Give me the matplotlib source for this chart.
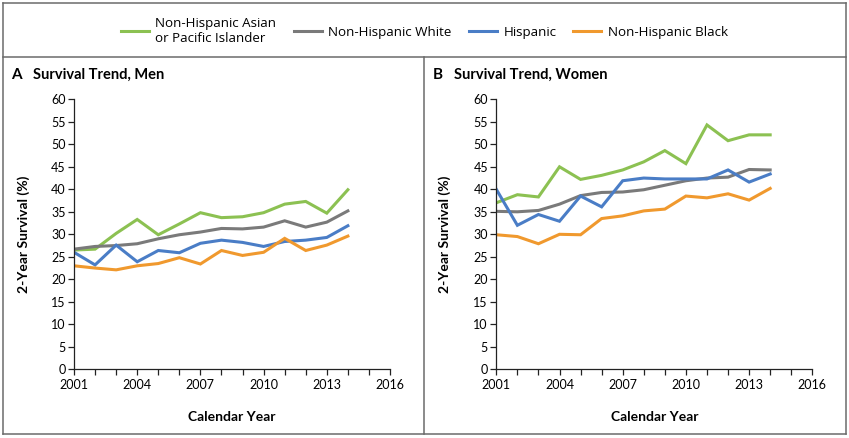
import matplotlib
matplotlib.use("Agg")
import matplotlib.pyplot as plt
from matplotlib.lines import Line2D
from matplotlib.ticker import MultipleLocator, FixedLocator

plt.rcParams['font.family'] = ['Lato', 'DejaVu Sans']

years = list(range(2001, 2015))
groups = ["Non-Hispanic Asian\nor Pacific Islander", "Non-Hispanic White", "Hispanic", "Non-Hispanic Black"]
colors = ["#8cc152", "#7a7a7a", "#4a7dc6", "#f0992e"]

men_asian = [26.5, 26.7, 30.2, 33.3, 29.9, 32.3, 34.8, 33.7, 33.9, 34.8, 36.7, 37.3, 34.7, 39.9]
men_white = [26.7, 27.3, 27.5, 27.9, 29.0, 29.9, 30.5, 31.3, 31.2, 31.6, 33.0, 31.6, 32.7, 35.2]
men_hisp = [26.0, 23.2, 27.6, 23.9, 26.4, 25.9, 28.0, 28.7, 28.2, 27.3, 28.4, 28.7, 29.3, 31.9]
men_black = [23.0, 22.5, 22.1, 23.0, 23.5, 24.8, 23.4, 26.4, 25.3, 26.0, 29.1, 26.4, 27.6, 29.6]

women_asian = [37.0, 38.8, 38.3, 45.0, 42.2, 43.1, 44.3, 46.1, 48.6, 45.7, 54.3, 50.8, 52.1, 52.1]
women_white = [35.1, 35.0, 35.3, 36.7, 38.6, 39.3, 39.4, 39.9, 40.9, 41.9, 42.5, 42.7, 44.4, 44.3]
women_hisp = [40.0, 32.0, 34.4, 32.9, 38.5, 36.1, 41.9, 42.5, 42.3, 42.3, 42.3, 44.3, 41.6, 43.4]
women_black = [29.9, 29.5, 27.9, 30.0, 29.9, 33.5, 34.1, 35.2, 35.6, 38.5, 38.1, 39.0, 37.6, 40.2]

men = [men_asian, men_white, men_hisp, men_black]
women = [women_asian, women_white, women_hisp, women_black]

W, H = 849, 438
fig = plt.figure(figsize=(W / 100, H / 100), dpi=100)

def fx(px):
    return px / W

def fy(py):
    return 1 - py / H

# borders
bc = "#6b6b6b"
lw = 1.1
for (x0, y0, x1, y1) in [(3, 3, 846, 3), (3, 434, 846, 434), (3, 3, 3, 434), (846, 3, 846, 434),
                          (3, 57, 846, 57), (424, 57, 424, 434)]:
    fig.add_artist(Line2D([fx(x0), fx(x1)], [fy(y0), fy(y1)], color=bc, lw=lw, transform=fig.transFigure))

def setup(ax, data, letter, title, lx, tx, ylab_x):
    for vals, c in zip(data, colors):
        ax.plot(years, vals, color=c, lw=2.2, solid_joinstyle='miter')
    ax.set_xlim(2001, 2016)
    ax.set_ylim(0, 60)
    ax.xaxis.set_major_locator(FixedLocator([2001, 2004, 2007, 2010, 2013, 2016]))
    ax.xaxis.set_minor_locator(MultipleLocator(1))
    ax.yaxis.set_major_locator(MultipleLocator(5))
    for s in ['top', 'right']:
        ax.spines[s].set_visible(False)
    for s in ['left', 'bottom']:
        ax.spines[s].set_linewidth(0.9)
        ax.spines[s].set_color("#222222")
    ax.tick_params(axis='both', which='both', direction='out', length=4, width=0.9, color="#222222",
                   labelsize=9, pad=2)
    ax.tick_params(axis='x', pad=3)
    ax.set_ylabel("2-Year Survival (%)", fontsize=10, fontweight='bold')
    ax.set_xlabel("Calendar Year", fontsize=10, fontweight='bold')
    ax.yaxis.set_label_coords(ylab_x, 0.5)
    ax.xaxis.set_label_coords(0.5, -0.155)
    fig.text(fx(lx), fy(75), letter, fontsize=11, fontweight='bold', va='center', ha='left')
    fig.text(fx(tx), fy(75), title, fontsize=10.5, fontweight='bold', va='center', ha='left')

axA = fig.add_axes([fx(74), fy(369.3), fx(316), 270 / H])
axB = fig.add_axes([fx(496.3), fy(369.3), fx(316), 270 / H])
setup(axA, men, "A", "Survival Trend, Men", 11, 33, -0.139)
setup(axB, women, "B", "Survival Trend, Women", 433, 454, -0.144)

handles = [Line2D([], [], color=c, lw=2.2) for c in colors]
fig.legend(handles, groups, loc='upper center', bbox_to_anchor=(0.5, fy(10)), ncol=4, frameon=False,
           prop={'family': ['Open Sans', 'DejaVu Sans'], 'size': 9.6},
           handlelength=2.1, handletextpad=0.5, columnspacing=1.28, borderpad=0, labelspacing=0.2)

fig.savefig("out.png", dpi=100)
